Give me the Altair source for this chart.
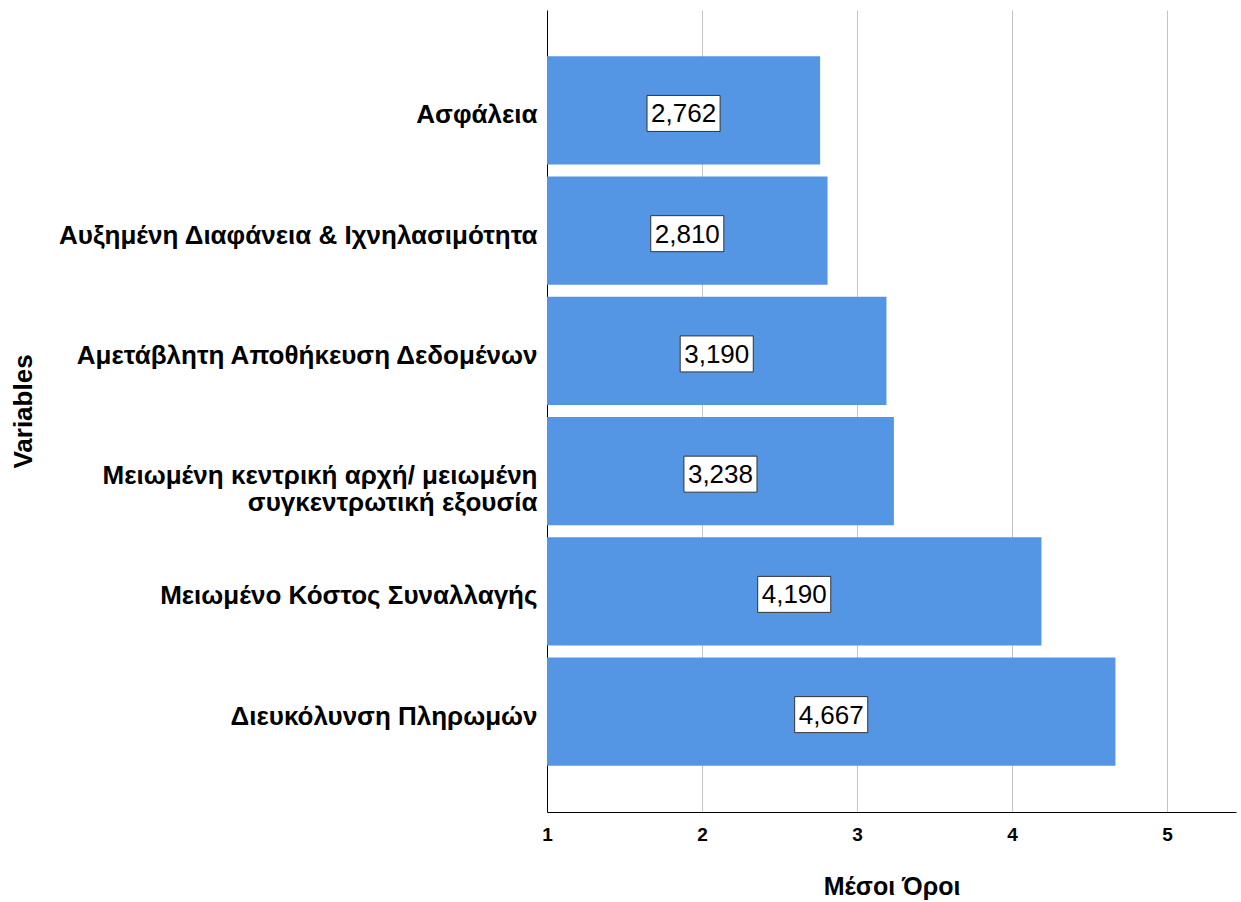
import altair as alt
import pandas as pd

categories = [
    "Ασφάλεια",
    "Αυξημένη Διαφάνεια & Ιχνηλασιμότητα",
    "Αμετάβλητη Αποθήκευση Δεδομένων",
    "Μειωμένη κεντρική αρχή/ μειωμένη\nσυγκεντρωτική εξουσία",
    "Μειωμένο Κόστος Συναλλαγής",
    "Διευκόλυνση Πληρωμών",
]
values = [2.762, 2.810, 3.190, 3.238, 4.190, 4.667]
x_ticks = [1, 2, 3, 4, 5]

df = pd.DataFrame({"cat": categories, "val": values})

FONT = "Liberation Sans"
BLUE = "#5596e4"

x_scale = alt.Scale(domain=[1, 5.445], nice=False, zero=False)
y_scale = alt.Scale(domain=categories, paddingInner=0.1, paddingOuter=0.385)

base = alt.Chart(df).transform_calculate(
    mid="(1 + datum.val) / 2",
    lab="replace(format(datum.val, '.3f'), '.', ',')",
)

bars = base.mark_bar(color=BLUE).encode(
    x=alt.X(
        "val:Q",
        scale=x_scale,
        axis=alt.Axis(
            values=x_ticks,
            format="d",
            title="Μέσοι Όροι",
            grid=True,
            gridColor="#c4c4c4",
            gridWidth=1,
            ticks=False,
            domainColor="#000000",
            domainWidth=1,
            labelFont=FONT,
            labelFontWeight="bold",
            labelFontSize=19,
            labelColor="#000000",
            labelPadding=13,
            labelFlush=False,
            titleFont=FONT,
            titleFontWeight="bold",
            titleFontSize=25,
            titleColor="#000000",
            titleY=74,
            titleBaseline="middle",
        ),
    ),
    x2=alt.datum(1),
    y=alt.Y(
        "cat:N",
        scale=y_scale,
        sort=None,
        axis=alt.Axis(
            title="Variables",
            ticks=False,
            grid=False,
            domainColor="#000000",
            domainWidth=1,
            labelFont=FONT,
            labelFontWeight="bold",
            labelFontSize=26,
            labelColor="#000000",
            labelPadding=10,
            labelLimit=600,
            labelOffset=5,
            labelLineHeight=27,
            labelExpr="split(datum.label, '\\n')",
            titleFont=FONT,
            titleFontWeight="bold",
            titleFontSize=26,
            titleColor="#000000",
            titleAngle=270,
            titleX=-524,
            titleY=401,
            titleAlign="center",
            titleBaseline="middle",
        ),
    ),
)

boxes = base.mark_point(
    shape="M-2.03,-1H2.03V1H-2.03Z",
    size=1296,
    filled=True,
    fill="#ffffff",
    stroke="#333333",
    strokeWidth=1,
    opacity=1,
).encode(
    x=alt.X("mid:Q", scale=x_scale),
    y=alt.Y("cat:N", scale=y_scale, sort=None, bandPosition=0.528),
)

texts = base.mark_text(
    font=FONT, fontSize=26, color="#000000", baseline="middle", align="center", dy=1
).encode(
    x=alt.X("mid:Q", scale=x_scale),
    y=alt.Y("cat:N", scale=y_scale, sort=None, bandPosition=0.528),
    text="lab:N",
)

chart = (
    alt.layer(bars, boxes, texts)
    .properties(
        width=689,
        height=802,
        autosize=alt.AutoSizeParams(type="none"),
        padding={"left": 547, "top": 10, "right": 5, "bottom": 90},
        background="#ffffff",
    )
    .configure_view(stroke=None)
)

chart.save("out.html", embed_options={"renderer": "svg", "actions": False})
